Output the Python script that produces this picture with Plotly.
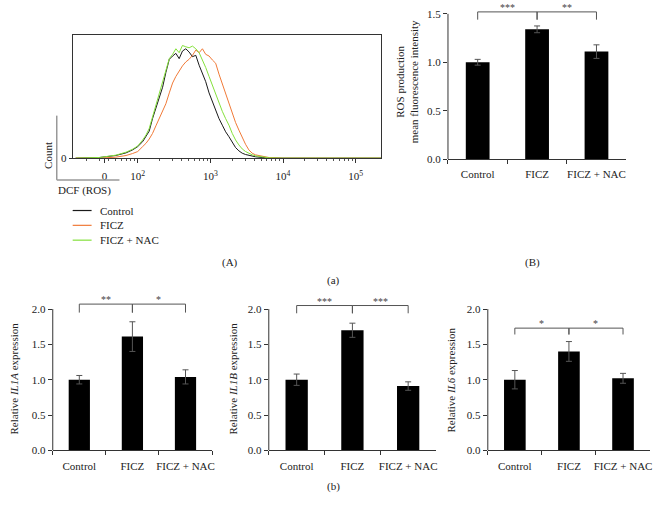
import plotly.graph_objects as go

# ---------------- data ----------------
# (A) flow cytometry histogram: DCF intensity grid and counts (arbitrary units)
dcf_intensity = [14, 30, 50, 69, 85, 100, 117, 130, 144, 160, 178, 198, 220, 244, 272, 302,
                 335, 372, 413, 459, 510, 567, 630, 700, 777, 863, 959, 1065, 1183, 1314,
                 1460, 1622, 1802, 2001, 2223, 2470, 2743, 3048, 3386, 3761, 4178, 5156,
                 6363, 9690, 27700, 134000, 225000]
count_control = [0, 2, 8, 16, 25, 35, 50, 65, 82, 120, 150, 182, 215, 260, 300, 310, 318, 302,
                 325, 332, 322, 308, 312, 282, 258, 232, 198, 170, 145, 120, 100, 80, 65, 48,
                 32, 22, 15, 11, 8, 6, 4, 2, 1, 0, 0, 0, 0]
count_ficz = [0, 0, 3, 8, 14, 20, 35, 45, 58, 75, 98, 120, 142, 165, 198, 228, 248, 265, 280,
              292, 300, 312, 328, 320, 332, 315, 310, 298, 288, 255, 225, 192, 162, 135, 108,
              85, 62, 42, 25, 15, 10, 5, 2, 0, 0, 0, 0]
count_ficz_nac = [0, 2, 9, 18, 27, 37, 55, 70, 90, 125, 160, 195, 230, 270, 302, 315, 332, 320,
                  342, 338, 335, 340, 332, 320, 300, 275, 248, 220, 192, 165, 142, 120, 100, 75,
                  55, 40, 28, 20, 14, 10, 7, 3, 1, 0, 0, 0, 0]
hist_tick_vals = [35, 100, 1000, 10000, 100000]
hist_tick_text = ["0", "10<sup>2</sup>", "10<sup>3</sup>", "10<sup>4</sup>", "10<sup>5</sup>"]
hist_series = ["Control", "FICZ", "FICZ + NAC"]

categories = ["Control", "FICZ", "FICZ + NAC"]

ros_mean = [1.00, 1.34, 1.11]
ros_err = [0.03, 0.035, 0.07]

il1a_mean = [1.00, 1.61, 1.04]
il1a_err = [0.06, 0.21, 0.10]

il1b_mean = [1.00, 1.70, 0.91]
il1b_err = [0.08, 0.10, 0.06]

il6_mean = [1.00, 1.40, 1.02]
il6_err = [0.13, 0.14, 0.07]

sig_ros = ["***", "**"]
sig_il1a = ["**", "*"]
sig_il1b = ["***", "***"]
sig_il6 = ["*", "*"]

# ---------------- layout helpers ----------------
W, H = 669, 514
FONT = "Liberation Serif, Times New Roman, serif"
TXT = "#222222"


def px(x):
    return x / W


def py(y):
    return 1 - y / H


fig = go.Figure()
shapes = []
annotations = []

# ---- (A) histogram ----
hist_colors = ["#1a1a1a", "#f07a38", "#84e03c"]
for name, counts, col in zip(hist_series, [count_control, count_ficz, count_ficz_nac], hist_colors):
    fig.add_trace(go.Scatter(x=dcf_intensity, y=counts, mode="lines", name=name,
                             line=dict(color=col, width=1),
                             xaxis="x", yaxis="y", showlegend=False))

minor_vals = [m * 10 ** d for d in range(1, 5) for m in range(2, 10)]

fig.update_layout(
    xaxis=dict(domain=[px(73), px(383)], type="log", range=[1.105, 5.352],
               tickmode="array", tickvals=hist_tick_vals, ticktext=hist_tick_text,
               ticks="outside", ticklen=4, tickcolor="#333", showline=True, mirror=True,
               linecolor="#333", linewidth=1, showgrid=False, zeroline=False,
               ticklabelstandoff=4,
               minor=dict(tickmode="array", tickvals=minor_vals, ticks="outside",
                          ticklen=2, tickcolor="#555"),
               tickfont=dict(family=FONT, size=11, color=TXT), anchor="y"),
    yaxis=dict(domain=[py(160), py(35)], range=[0, 375], tickmode="array", tickvals=[0],
               ticktext=["0"], ticks="outside", ticklen=3, tickcolor="#333",
               showline=True, mirror=True, linecolor="#333", linewidth=1,
               showgrid=False, zeroline=False,
               tickfont=dict(family=FONT, size=11, color=TXT), anchor="x"),
)

# custom compact legend for the histogram
for i, (name, col) in enumerate(zip(hist_series, hist_colors)):
    yy = 213 + 15 * i
    shapes.append(dict(type="line", xref="paper", yref="paper", x0=px(73), x1=px(92),
                       y0=py(yy), y1=py(yy), line=dict(color=col, width=1.2)))
    annotations.append(dict(x=px(98), y=py(yy), xref="paper", yref="paper", text=name,
                            showarrow=False, xanchor="left", yanchor="middle",
                            font=dict(family=FONT, size=11, color=TXT)))

# ---- bar panels ----
panels = [
    ("B", ros_mean, ros_err, sig_ros, 2, (450, 629), 161, 98.0, 1.6, 1.5, (1.44, 1.52)),
    ("IL1A", il1a_mean, il1a_err, sig_il1a, 3, (53, 213), 455.7, 71.5, 2.15, 2.0, (1.95, 2.07)),
    ("IL1B", il1b_mean, il1b_err, sig_il1b, 4, (270, 438), 455.7, 71.5, 2.15, 2.0, (1.94, 2.05)),
    ("IL6", il6_mean, il6_err, sig_il6, 5, (490, 653), 455.7, 71.5, 2.15, 2.0, (1.64, 1.73)),
]

for name, mean, err, sig, k, (xl, xr), ybot, ppu, ymax, ytop, (blo, bhi) in panels:
    xa, ya = f"x{k}", f"y{k}"
    fig.add_trace(go.Bar(x=categories, y=mean, width=0.4,
                         marker=dict(color="black", line=dict(width=0)),
                         error_y=dict(type="data", array=err, color="#555", thickness=1, width=3),
                         xaxis=xa, yaxis=ya, showlegend=False))
    for (c0, c1) in [(categories[0], categories[1]), (categories[1], categories[2])]:
        fig.add_trace(go.Scatter(x=[c0, c0, c1, c1], y=[blo, bhi, bhi, blo], mode="lines",
                                 line=dict(color="#555", width=1), xaxis=xa, yaxis=ya,
                                 showlegend=False, hoverinfo="skip"))
    for i, s in enumerate(sig):
        annotations.append(dict(x=i + 0.5, y=bhi, xref=xa, yref=ya, text=s, showarrow=False,
                                xanchor="center", yanchor="bottom", yshift=-3,
                                font=dict(family=FONT, size=10, color="#444")))
    top_px = ybot - ymax * ppu
    fig.update_layout(**{
        f"xaxis{k}": dict(domain=[px(xl), px(xr)], anchor=ya, type="category",
                          range=[-0.5, 2.5], tickson="boundaries", ticks="outside",
                          ticklen=4, tickcolor="#333", showline=True, linecolor="#333",
                          linewidth=1, showgrid=False, zeroline=False, tickangle=0,
                          ticklabelstandoff=5,
                          tickfont=dict(family=FONT, size=11, color=TXT)),
        f"yaxis{k}": dict(domain=[py(ybot), py(top_px)], anchor=xa, range=[0, ymax],
                          tickmode="array", tickvals=[v * 0.5 for v in range(int(ytop / 0.5) + 1)],
                          tickformat=".1f", ticks="outside", ticklen=4, tickcolor="#333",
                          showline=False, showgrid=False, zeroline=False,
                          tickfont=dict(family=FONT, size=11, color=TXT)),
    })
    shapes.append(dict(type="line", xref=f"{xa} domain", yref=ya, x0=0, x1=0, y0=0, y1=ytop,
                       line=dict(color="#333", width=1)))


def label(text, x, y, xanchor="center", angle=0, size=11):
    annotations.append(dict(x=px(x), y=py(y), xref="paper", yref="paper", text=text,
                            showarrow=False, xanchor=xanchor, yanchor="middle",
                            textangle=angle,
                            font=dict(family=FONT, size=size, color=TXT)))


label("ROS production<br>mean fluorescence intensity", 409, 83, angle=-90)
label("Relative <i>IL1A</i> expression", 14, 383, angle=-90)
label("Relative <i>IL1B</i> expression", 234, 383, angle=-90)
label("Relative <i>IL6</i> expression", 453, 384, angle=-90)

# histogram extras: Count L-axis, labels
shapes.append(dict(type="line", xref="paper", yref="paper", x0=px(57), x1=px(57),
                   y0=py(117), y1=py(182), line=dict(color="#999", width=1.5)))
shapes.append(dict(type="line", xref="paper", yref="paper", x0=px(57), x1=px(120),
                   y0=py(182), y1=py(182), line=dict(color="#999", width=1.5)))

label("Count", 48, 157, angle=-90)
label("DCF (ROS)", 56, 193, xanchor="left")
label("(A)", 231, 266)
label("(B)", 535, 266)
label("(a)", 335, 284)
label("(b)", 335, 492)

fig.update_layout(
    width=W, height=H, margin=dict(l=0, r=0, t=0, b=0),
    paper_bgcolor="white", plot_bgcolor="white",
    shapes=shapes, annotations=annotations,
    showlegend=False,
)

fig.write_html("out.html", config={"displayModeBar": False},
               post_script="document.body.style.margin='0';")
